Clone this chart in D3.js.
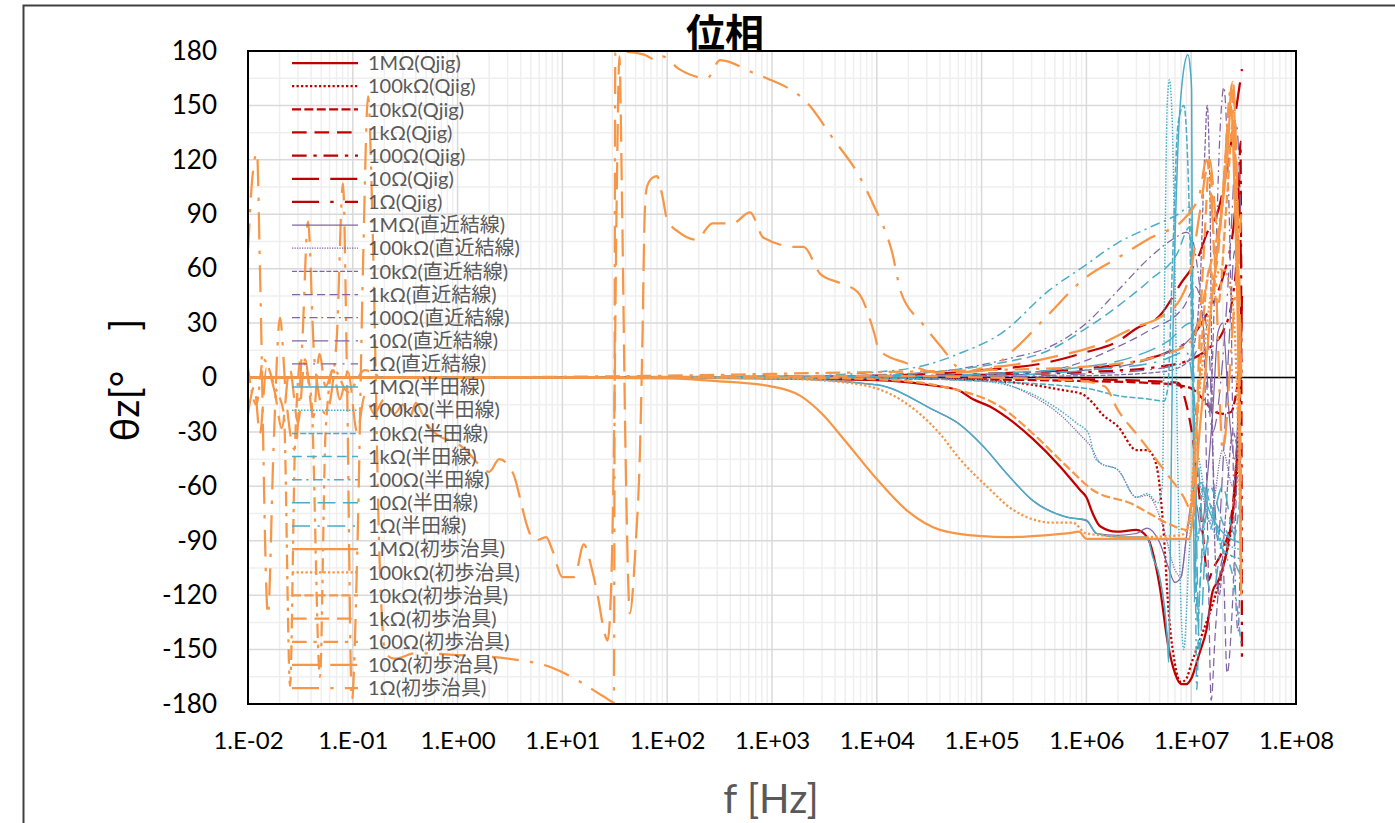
<!DOCTYPE html>
<html>
<head>
<meta charset="utf-8">
<script src="https://cdn.jsdelivr.net/npm/d3@7"></script>
<style>
  body { margin: 0; background: #fff; }
  text { font-family: Lato, "Noto Sans CJK JP", sans-serif; }
</style>
</head>
<body>
<svg id="chart" width="1395" height="823"></svg>
<script>
// series labels / styles
const jigs = ["Qjig", "直近結線", "半田線", "初歩治具"];
const jigColors = ["#C00000", "#8064A2", "#4BACC6", "#F79646"];
const jigWidths = [2.25, 1.25, 1.5, 2.25];
const loads = ["1MΩ", "100kΩ", "10kΩ", "1kΩ", "100Ω", "10Ω", "1Ω"];
const dashUnits = [null, [1, 1], [4, 1.5], [6.5, 3.5], [6.5, 3, 1.5, 3], [12, 5], [12, 5, 1.5, 5]];

const xTicks = [1e-2, 1e-1, 1e0, 1e1, 1e2, 1e3, 1e4, 1e5, 1e6, 1e7, 1e8];
const yTicks = [-180, -150, -120, -90, -60, -30, 0, 30, 60, 90, 120, 150, 180];

// [f (Hz), phase (deg)]
const qjig_1M = [[1e-2,0],[1e2,0],[1e3,-0.5],[1e4,-1.5],[3e4,-4],[6e4,-7],[8.3e4,-12],[1.2e5,-16],[1.74e5,-22],[3.1e5,-34],[5.6e5,-49],[8.7e5,-62],[1e6,-66],[1.15e6,-75],[1.35e6,-82],[1.95e6,-85],[3e6,-84],[3.8e6,-88],[5e6,-115],[6e6,-147],[7e6,-163],[8e6,-169],[9e6,-169],[1e7,-166],[1.2e7,-152],[1.4e7,-139],[1.6e7,-118],[1.85e7,-111],[2.3e7,-88],[2.7e7,-50],[2.95e7,5],[3.05e7,45]];
const qjig_100k = [[1e-2,0],[1e4,-0.3],[1e5,-1.5],[3e5,-4],[6e5,-7],[9e5,-9],[1.15e6,-14],[1.4e6,-20],[2e6,-27],[3e6,-40],[3.8e6,-40],[4.4e6,-44],[5e6,-60],[5.5e6,-88],[6e6,-124],[7e6,-158],[8e6,-168],[9e6,-166],[1e7,-158],[1.3e7,-140],[1.6e7,-125],[2e7,-105],[2.5e7,-75],[2.8e7,-40],[3e7,10]];
const qjig_10k = [[1e-2,0],[1e4,-0.3],[1e5,-1],[1e6,-2],[4e6,-3],[7e6,-4],[1e7,-6],[1.3e7,-12],[1.6e7,-18],[2e7,-20],[2.4e7,-19],[2.6e7,-13],[2.8e7,0],[3e7,30]];
const qjig_1k = [[1e-2,0],[1e5,-0.3],[1e6,-1],[4e6,-2],[7.5e6,-3],[9e6,-15],[1e7,-28],[1.15e7,-55],[1.3e7,-88],[1.45e7,-112],[1.6e7,-106],[2e7,-95],[2.4e7,-78],[2.7e7,-45],[2.9e7,-5],[3e7,40]];
const qjig_100 = [[1e-2,0],[1e4,0.5],[1e5,1.5],[1e6,3],[5e6,6],[1e7,10],[1.6e7,18],[2e7,25],[2.5e7,45],[2.8e7,80],[2.95e7,130],[3.05e7,-155]];
const qjig_10 = [[1e-2,0],[1e3,0.3],[1e4,1],[1e5,4],[4e5,8],[1e6,14],[2e6,20],[3e6,27],[5e6,34],[8e6,52],[1.2e7,68],[1.4e7,79],[1.85e7,94],[2.2e7,116],[2.7e7,149],[3.05e7,170]];
const qjig_1 = [[1e-2,0],[1e4,0.5],[1e5,2],[1e6,5],[3e6,9],[6e6,14],[1e7,22],[1.5e7,38],[2e7,55],[2.5e7,80],[2.8e7,105],[3e7,60]];

const direct_1M = [[1e-2,0],[1e3,-0.5],[1e4,-4],[3.5e4,-18],[5.9e4,-25],[1.04e5,-38],[1.74e5,-53],[3.1e5,-68],[6.5e5,-77],[1e6,-79],[1.25e6,-86],[2e6,-87],[3e6,-86],[3.8e6,-83],[5e6,-91],[6e6,-104],[7e6,-113],[8e6,-110],[9e6,-88],[1e7,-70],[1.1e7,-68],[1.25e7,-85],[1.4e7,-60],[1.6e7,-20],[1.8e7,25],[2e7,30],[2.3e7,-20],[2.6e7,-45],[3e7,30]];
const direct_100k = [[1e-2,0],[1e4,-0.3],[1e5,-1],[3e5,-10],[6e5,-22],[8.5e5,-31],[1.1e6,-38],[1.35e6,-47],[2e6,-51],[3e6,-66],[3.8e6,-65],[4.4e6,-69],[5.5e6,-84],[7e6,-106],[8e6,-110],[9e6,-88],[1e7,-72],[1.2e7,-60],[1.5e7,-80],[2e7,-40],[2.5e7,-60],[3e7,20]];
const direct_10k = [[1e-2,0],[1e5,0.5],[1e6,1],[5e6,3],[8e6,6],[1e7,12],[1.2e7,45],[1.35e7,125],[1.42e7,150],[1.5e7,110],[1.6e7,-30],[1.7e7,-100],[1.85e7,-120],[2.1e7,-80],[2.5e7,-30],[3e7,-60]];
const direct_1k = [[1e-2,0],[1e4,0.3],[1e5,1.5],[4.5e5,4],[2e6,17],[4e6,26],[8.5e6,39],[1.1e7,50],[1.3e7,30],[1.45e7,-100],[1.55e7,-178],[1.7e7,-140],[2e7,-100],[2.2e7,-163],[2.5e7,-120],[2.8e7,-40],[3e7,-20]];
const direct_100 = [[1e-2,0],[1e3,0.3],[1e4,1.5],[5e4,4],[1e5,7],[2e5,11],[4.5e5,17],[1e6,30],[2e6,48],[4e6,66],[7e6,77],[9e6,80],[1e7,78],[1.15e7,60],[1.3e7,30],[1.5e7,-20],[1.7e7,60],[1.9e7,140],[2.05e7,160],[2.2e7,130],[2.4e7,40],[2.6e7,-100],[2.8e7,-140],[3e7,-60]];
const direct_10 = [[1e-2,0],[1e4,0.3],[1e5,1],[1e6,4],[3e6,8],[6e6,14],[1e7,22],[1.3e7,35],[1.5e7,10],[1.6e7,-40],[1.8e7,-90],[2e7,-50],[2.3e7,20],[2.6e7,70],[2.8e7,30],[3e7,-80]];
const direct_1 = [[1e-2,0],[1e5,0.5],[1e6,2],[5e6,5],[1e7,10],[1.3e7,20],[1.6e7,-30],[2e7,10],[2.5e7,100],[2.7e7,140],[3e7,80]];

const solder_1M = [[1e-2,0],[1e3,-0.5],[1e4,-4],[3.5e4,-18],[5.9e4,-25],[1.04e5,-38],[1.74e5,-53],[3.1e5,-68],[6.5e5,-77],[1e6,-78.5],[1.25e6,-86],[2e6,-88],[3e6,-88],[3.8e6,-88],[4.3e6,-99],[5e6,-110],[5.9e6,-143],[6.1e6,-157],[6.3e6,-100],[6.6e6,0],[7.4e6,120],[8.4e6,168],[9.3e6,178],[9.8e6,170],[1.01e7,158],[1.02e7,94],[1.04e7,0],[1.07e7,-124],[1.13e7,-60],[1.25e7,-58],[1.4e7,-69],[1.9e7,-84],[2.9e7,-91]];
const solder_100k = [[1e-2,0],[1e4,-0.3],[1e5,-2],[3e5,-9],[8e5,-25],[1.05e6,-31],[1.2e6,-44],[1.35e6,-47],[2e6,-51],[3e6,-66],[3.8e6,-64],[4.8e6,-69],[5.3e6,-60],[5.6e6,60],[5.9e6,150],[6.2e6,164],[6.6e6,140],[7e6,60],[7.5e6,-60],[8.5e6,-150],[9.5e6,-100],[1.1e7,-40],[1.5e7,-80],[2e7,-90],[3e7,-95]];
const solder_10k = [[1e-2,0],[1e4,-0.3],[1e5,-2],[1e6,-6],[2e6,-10],[4e6,-12],[5.5e6,-13],[6e6,-5],[6.6e6,60],[7.5e6,140],[8.5e6,150],[9.5e6,100],[1.05e7,-20],[1.15e7,-90],[1.3e7,-60],[1.6e7,-75],[2e7,-95],[3e7,-100]];
const solder_1k = [[1e-2,0],[1e3,0.2],[1e4,1],[5e4,4],[1.5e5,8],[4.4e5,15],[9.3e5,26],[1.96e6,39],[4.1e6,54],[7.3e6,68],[9.7e6,83],[1.02e7,40],[1.08e7,-60],[1.15e7,-135],[1.25e7,-100],[1.5e7,-60],[2e7,-80],[2.5e7,-90],[3e7,-60]];
const solder_100 = [[1e-2,0],[1e3,0.5],[1e4,3],[3e4,7],[6e4,13],[1.6e5,25],[4.4e5,48],[9.3e5,61],[1.96e6,74],[4.1e6,83],[7.5e6,90],[9.7e6,94],[1.03e7,60],[1.08e7,-50],[1.13e7,-172],[1.2e7,-120],[1.5e7,-70],[2e7,-95],[2.5e7,-110],[3e7,-148]];
const solder_10 = [[1e-2,0],[1e4,0.5],[1e5,2],[1e6,6],[3e6,12],[6e6,20],[1e7,30],[1.1e7,-60],[1.2e7,-150],[1.35e7,-100],[1.6e7,-80],[2e7,-60],[2.5e7,-85],[3e7,-90]];
const solder_1 = [[1e-2,0],[1e5,1],[1e6,4],[5e6,9],[9e6,14],[1.1e7,-20],[1.3e7,-90],[1.6e7,-120],[2e7,-90],[2.5e7,-100],[3e7,-110]];

const basic_1M = [[1e-2,0],[10,0],[1e2,-0.5],[3e2,-2],[1e3,-5],[1.85e3,-10],[3e3,-20],[5e3,-35],[1e4,-56],[2e4,-74],[4e4,-84],[1e5,-87.5],[1.74e5,-88],[4e5,-87],[7.4e5,-85.5],[8.5e5,-85],[1e6,-89],[3e6,-89],[7e6,-89],[9.5e6,-89],[1.05e7,-75],[1.2e7,-30],[1.35e7,0],[1.5e7,30],[1.9e7,85],[2.2e7,120],[2.4e7,150],[2.6e7,100],[2.8e7,20],[3e7,-120]];
const basic_100k = [[1e-2,0],[1e2,0],[1e3,-0.5],[5.5e3,-3],[1.66e4,-12],[4e4,-31],[6.2e4,-45],[1.12e5,-60],[2e5,-73],[4.8e5,-80],[7.4e5,-80],[1e6,-86],[3e6,-88],[8e6,-87],[9.5e6,-80],[1.1e7,-30],[1.3e7,10],[1.6e7,50],[2e7,60],[2.5e7,40],[3e7,-100]];
const basic_10k = [[1e-2,0],[1e3,0],[1e4,-1],[6e4,-7],[1.5e5,-16],[3.1e5,-31],[6.5e5,-49],[1.15e6,-62],[2.8e6,-70],[4e6,-75],[6.3e6,-81],[9.1e6,-84],[1e7,-70],[1.15e7,-20],[1.3e7,30],[1.5e7,60],[1.8e7,40],[2.2e7,100],[2.5e7,140],[2.8e7,60],[3e7,-110]];
const basic_1k = [[1e-2,0],[1e3,0.5],[1e4,1],[1e5,0],[8e5,-1.5],[1.5e6,-5],[2e6,-18],[3.2e6,-33],[5.5e6,-51],[8.5e6,-66],[1e7,-73],[1.1e7,-40],[1.2e7,20],[1.35e7,80],[1.5e7,120],[1.7e7,60],[2e7,100],[2.3e7,150],[2.5e7,163],[2.7e7,100],[3e7,0]];
const basic_100 = [[1e-2,5],[1.2e-2,-15],[1.4e-2,10],[1.8e-2,-5],[2.2e-2,-20],[2.52e-2,-170],[2.8e-2,-40],[3.2e-2,10],[4e-2,-10],[4.86e-2,-165],[5.5e-2,-30],[6.5e-2,5],[9e-2,-8],[1.3e-1,4],[2e-1,0],[1e2,1],[1e3,2],[1e4,3],[1e5,4],[1e6,6],[5e6,12],[1e7,20],[1.5e7,60],[2e7,100],[2.4e7,160],[2.6e7,120],[2.8e7,40],[3e7,-60]];
const basic_10 = [[1e-2,-20],[1.15e-2,-5],[1.3e-2,-31],[1.5e-2,5],[1.8e-2,-8],[2.1e-2,-28],[2.5e-2,5],[3e-2,-25],[3.5e-2,10],[4.2e-2,-22],[4.8e-2,13],[5.5e-2,-5],[6.5e-2,4],[7.5e-2,-12],[9e-2,3],[1.1e-1,-30],[1.3e-1,-10],[1.6e-1,-20],[2e-1,-12],[2.5e-1,-20],[3e-1,-15],[3.5e-1,-22],[4e-1,-14],[5e-1,-25],[7e-1,-33],[9e-1,-35],[1.2,-40],[1.6,-48],[2,-52],[2.5,-45],[3,-48],[3.5,-55],[4,-68],[4.5,-80],[5.5,-90],[7,-88],[8,-95],[10,-110],[13,-110],[16,-92],[19,-105],[22,-122],[25,-140],[27,-145],[29,-120],[31,-40],[33,100],[35,177],[37,100],[40,-40],[44,-130],[50,-92],[55,-40],[58,20],[61,90],[64,105],[72,110],[80,111],[90,100],[100,87],[130,80],[190,76],[270,85],[420,85],[617,91],[830,77],[1.7e3,72],[2e3,72],[2.9e3,57],[4.5e3,52],[6.6e3,47],[9.5e3,24],[1.05e4,15],[1.9e4,8],[4e4,2.5],[7e4,3],[1e5,5],[2e5,7],[4.5e5,11],[1.3e6,18],[3e6,28],[5e6,33],[8e6,44],[1e7,60],[1.2e7,90],[1.5e7,120],[1.8e7,80],[2.2e7,130],[2.5e7,163],[2.7e7,120],[3e7,0]];
const basic_1 = [[1e-2,70],[1.1e-2,110],[1.22e-2,124],[1.3e-2,60],[1.55e-2,-131],[1.75e-2,-40],[2.02e-2,33],[2.3e-2,-10],[2.8e-2,-40],[3.3e-2,20],[3.74e-2,86],[4.3e-2,10],[5.5e-2,-20],[7e-2,20],[8.06e-2,107],[8.8e-2,0],[9.8e-2,-178],[1.1e-1,-100],[1.25e-1,60],[1.4e-1,155],[1.55e-1,80],[1.8e-1,-100],[2.05e-1,-152],[2.5e-1,-155],[4e-1,-152],[1,-153],[3,-155],[8,-160],[15,-168],[25,-176],[31,-179],[32,179],[40,179.5],[60,178],[80,175],[90,177],[130,170],[240,165],[320,175],[660,168],[890,165],[2.2e3,151],[3.9e3,131],[6.5e3,113],[9.5e3,94],[1.4e4,69],[1.7e4,47],[2.7e4,30],[4.1e4,17],[7e4,3],[1.1e5,4],[2e5,15],[4.4e5,35],[9.3e5,54],[2e6,66],[4.1e6,77],[8.4e6,87],[1.2e7,101],[1.4e7,120],[1.7e7,60],[2e7,-40],[2.5e7,30],[3e7,90]];

const phaseData = [
  [qjig_1M, qjig_100k, qjig_10k, qjig_1k, qjig_100, qjig_10, qjig_1],
  [direct_1M, direct_100k, direct_10k, direct_1k, direct_100, direct_10, direct_1],
  [solder_1M, solder_100k, solder_10k, solder_1k, solder_100, solder_10, solder_1],
  [basic_1M, basic_100k, basic_10k, basic_1k, basic_100, basic_10, basic_1]
];

// build series table
const series = [];
jigs.forEach((jig, j) => {
  loads.forEach((ld, k) => {
    const w = jigWidths[j];
    series.push({
      name: ld + "(" + jig + ")",
      color: jigColors[j],
      width: w,
      dash: dashUnits[k] ? dashUnits[k].map(u => u * w).join(",") : null,
      values: phaseData[j][k]
    });
  });
});

const svg = d3.select("#chart");
const pLeft = 248, pRight = 1296, pTop = 51, pBottom = 704;

const x = d3.scaleLog().domain([1e-2, 1e8]).range([pLeft, pRight]);
const y = d3.scaleLinear().domain([-180, 180]).range([pBottom, pTop]);

// outer chart frame
svg.append("rect").attr("x", 23.5).attr("y", 5.5).attr("width", 1400).attr("height", 840)
  .attr("fill", "none").attr("stroke", "#404040").attr("stroke-width", 2);

// grid
const grid = svg.append("g");
const minorX = [];
for (let d = -2; d < 8; d++) for (let k = 2; k <= 9; k++) minorX.push(k * Math.pow(10, d));
grid.selectAll(".mx").data(minorX).enter().append("line")
  .attr("x1", d => x(d)).attr("x2", d => x(d)).attr("y1", pTop).attr("y2", pBottom)
  .attr("stroke", "#efefef").attr("stroke-width", 1.5);
const minorY = d3.range(-165, 180, 30);
grid.selectAll(".my").data(minorY).enter().append("line")
  .attr("x1", pLeft).attr("x2", pRight).attr("y1", d => y(d)).attr("y2", d => y(d))
  .attr("stroke", "#efefef").attr("stroke-width", 1.5);
grid.selectAll(".Mx").data(xTicks.slice(1, -1)).enter().append("line")
  .attr("x1", d => x(d)).attr("x2", d => x(d)).attr("y1", pTop).attr("y2", pBottom)
  .attr("stroke", "#d9d9d9").attr("stroke-width", 1.5);
grid.selectAll(".My").data(yTicks.slice(1, -1)).enter().append("line")
  .attr("x1", pLeft).attr("x2", pRight).attr("y1", d => y(d)).attr("y2", d => y(d))
  .attr("stroke", "#d9d9d9").attr("stroke-width", 1.5);

// zero axis line
svg.append("line").attr("x1", pLeft).attr("x2", pRight).attr("y1", y(0)).attr("y2", y(0))
  .attr("stroke", "#000").attr("stroke-width", 1.5);

// lines
svg.append("clipPath").attr("id", "clip").append("rect")
  .attr("x", pLeft).attr("y", pTop - 2).attr("width", pRight - pLeft).attr("height", pBottom - pTop + 4);
const line = d3.line().x(d => x(d[0])).y(d => y(d[1])).curve(d3.curveMonotoneX);
svg.append("g").attr("clip-path", "url(#clip)")
  .selectAll("path").data(series).enter().append("path")
  .attr("d", d => line(d.values))
  .attr("fill", "none")
  .attr("stroke", d => d.color)
  .attr("stroke-width", d => d.width)
  .attr("stroke-dasharray", d => d.dash)
  .attr("stroke-linejoin", "round");

// plot frame
svg.append("rect").attr("x", pLeft).attr("y", pTop).attr("width", pRight - pLeft).attr("height", pBottom - pTop)
  .attr("fill", "none").attr("stroke", "#000").attr("stroke-width", 2);

// axes
const fmt = d => {
  const e = Math.round(Math.log10(d));
  return "1.E" + (e < 0 ? "-" : "+") + String(Math.abs(e)).padStart(2, "0");
};
const xAxis = svg.append("g").attr("transform", `translate(0,${pBottom})`)
  .call(d3.axisBottom(x).tickValues(xTicks).tickFormat(fmt).tickSize(0).tickPadding(28));
const yAxis = svg.append("g").attr("transform", `translate(${pLeft},0)`)
  .call(d3.axisLeft(y).tickValues(yTicks).tickFormat(d => String(d)).tickSize(0).tickPadding(31));
[xAxis, yAxis].forEach(a => {
  a.select(".domain").remove();
  a.selectAll("text").attr("fill", "#000").style("font-family", "Lato, sans-serif");
});
xAxis.selectAll("text").attr("font-size", 24);
yAxis.selectAll("text").attr("font-size", 26);

// legend
const legend = svg.append("g");
const rows = legend.selectAll("g").data(series).enter().append("g")
  .attr("transform", (d, i) => `translate(0,${63 + i * 23.15})`);
rows.append("line").attr("x1", 292).attr("x2", 358)
  .attr("stroke", d => d.color).attr("stroke-width", d => d.width)
  .attr("stroke-dasharray", d => d.dash);
rows.append("text").attr("x", 368).attr("dy", "0.36em")
  .attr("font-size", 20).attr("fill", "#595959").text(d => d.name);

// titles
svg.append("text").attr("x", 725).attr("y", 47).attr("text-anchor", "middle")
  .attr("font-size", 39).attr("font-weight", "bold")
  .style("font-family", "'Noto Sans CJK JP', sans-serif").text("位相");
svg.append("text").attr("transform", "translate(139,380) rotate(-90)")
  .attr("text-anchor", "middle").attr("font-size", 40).attr("fill", "#000").text("θz[°　]");
svg.append("text").attr("x", 771).attr("y", 813).attr("text-anchor", "middle")
  .attr("font-size", 40).attr("fill", "#595959").text("f [Hz]");
</script>
</body>
</html>
